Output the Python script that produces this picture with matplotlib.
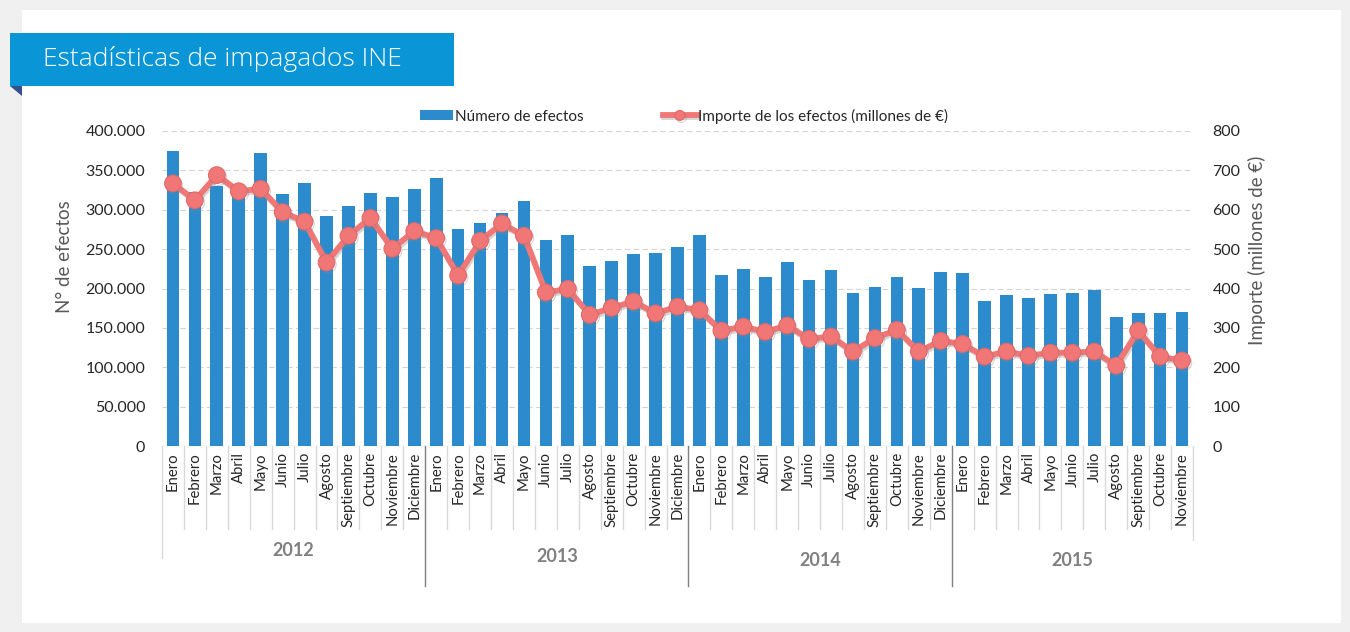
import matplotlib
matplotlib.use('Agg')
import matplotlib.pyplot as plt
from matplotlib.patches import Rectangle, Polygon
import matplotlib.patheffects as pe
from matplotlib.ticker import FuncFormatter, MultipleLocator

# ---------------- data ----------------
meses = ['Enero', 'Febrero', 'Marzo', 'Abril', 'Mayo', 'Junio', 'Julio',
         'Agosto', 'Septiembre', 'Octubre', 'Noviembre', 'Diciembre']
years = ['2012', '2013', '2014', '2015']
months_per_year = [12, 12, 12, 11]

efectos_2012 = [375000, 323000, 330600, 328000, 371700, 320000, 334400, 292100, 304400, 320900, 316200, 326400]
efectos_2013 = [340000, 275200, 283200, 295500, 311600, 261600, 268400, 228600, 235300, 243800, 245100, 252700]
efectos_2014 = [267500, 216800, 224800, 214200, 233300, 210800, 223900, 194300, 201500, 214600, 200200, 220600]
efectos_2015 = [220100, 184600, 191300, 188400, 193000, 193900, 198100, 164300, 168900, 169400, 170200]

importe_2012 = [667, 624, 688, 647, 653, 594, 570, 466, 534, 579, 501, 546]
importe_2013 = [528, 433, 521, 565, 534, 390, 399, 333, 351, 367, 337, 354]
importe_2014 = [345, 293, 303, 290, 306, 272, 278, 240, 274, 295, 240, 267]
importe_2015 = [259, 227, 240, 229, 237, 237, 240, 204, 293, 227, 217]

efectos = efectos_2012 + efectos_2013 + efectos_2014 + efectos_2015
importe = importe_2012 + importe_2013 + importe_2014 + importe_2015
labels = []
for n in months_per_year:
    labels += meses[:n]
x = list(range(len(labels)))

# ---------------- style ----------------
W, H = 1350, 632
BAR = '#2b8bcd'
LINE = '#f17676'
TXT = '#262626'
plt.rcParams['font.family'] = ['Lato', 'DejaVu Sans']


def fx(px):
    return px / W


def fy(py):
    return 1 - py / H


fig = plt.figure(figsize=(W / 100, H / 100), dpi=100, facecolor='#f0f0f0')

# white panel
fig.patches.append(Rectangle((fx(22), fy(623)), fx(1341) - fx(22), fy(10) - fy(623),
                             transform=fig.transFigure, facecolor='white', edgecolor='none', zorder=-10))
# title banner
fig.patches.append(Polygon([(fx(10), fy(86)), (fx(22), fy(86)), (fx(22), fy(96))],
                           closed=True, transform=fig.transFigure, facecolor='#34508f',
                           edgecolor='none', zorder=-9))
fig.patches.append(Rectangle((fx(10), fy(86)), fx(454) - fx(10), fy(33) - fy(86),
                             transform=fig.transFigure, facecolor='#0a96d6', edgecolor='none', zorder=-8))
fig.text(fx(43), fy(59), 'Estadísticas de impagados INE', color='white', fontsize=19,
         fontweight='light', va='center', ha='left', family=['Open Sans', 'DejaVu Sans'], zorder=3)

# axes
top_px, bot_px, left_px, right_px = 131, 446, 162, 1193
ax = fig.add_axes([fx(left_px), fy(bot_px), fx(right_px) - fx(left_px), fy(top_px) - fy(bot_px)])
ax.set_zorder(5)
ax.set_facecolor('none')
ax.set_xlim(-0.5, len(x) - 0.5)
ax.set_ylim(0, 400000)
ax.yaxis.set_major_locator(MultipleLocator(50000))
ax.yaxis.set_major_formatter(FuncFormatter(lambda v, p: f'{int(v):,}'.replace(',', '.')))
for s in ax.spines.values():
    s.set_visible(False)
ax.tick_params(axis='y', length=0, labelsize=11.5, labelcolor=TXT, pad=12)
ax.set_xticks([])
for v in range(50000, 400001, 50000):
    ax.axhline(v, color='#d4d4d4', lw=0.8, ls=(0, (5, 3)), zorder=0)
ax.axhline(0, color='#d9d9d9', lw=1.0, zorder=0)

bars = ax.bar(x, efectos, width=0.58, color=BAR, zorder=2, label='Número de efectos')

ax2 = ax.twinx()
ax2.set_zorder(6)
ax2.set_facecolor('none')
ax2.set_ylim(0, 800)
ax2.yaxis.set_major_locator(MultipleLocator(100))
for s in ax2.spines.values():
    s.set_visible(False)
ax2.tick_params(axis='y', length=0, labelsize=11.5, labelcolor=TXT, pad=14)
line, = ax2.plot(x, importe, color=LINE, lw=4.2, marker='o', ms=12,
                 markerfacecolor=LINE, markeredgecolor='#e06a6a', markeredgewidth=0.8,
                 zorder=3, label='Importe de los efectos (millones de €)',
                 path_effects=[pe.SimpleLineShadow(offset=(1, -1.5), shadow_color='#888888', alpha=0.35),
                               pe.Normal()])

fig.text(fx(65), fy(257), 'N° de efectos', rotation=90, fontsize=13.5, color='#595959',
         ha='center', va='center')
fig.text(fx(1257), fy(250), 'Importe (millones de €)', rotation=90, fontsize=13.5, color='#595959',
         ha='center', va='center')

# legend
leg = fig.legend(handles=[bars, line], loc='center', bbox_to_anchor=(fx(684), fy(116)),
                 ncol=2, frameon=False, fontsize=11, handlelength=2.2, handleheight=0.6,
                 handletextpad=0.1, columnspacing=5.2, labelcolor='#262626', markerscale=0.6)

# multi-level category axis
trans = ax.get_xaxis_transform()


def ay(py):
    return (bot_px - py) / (bot_px - top_px)


for i, lab in enumerate(labels):
    ax.text(i, ay(452), lab, rotation=90, ha='center', va='top', fontsize=10.7,
            color='#262626', transform=trans, clip_on=False)

boundaries = []
acc = 0
for n in months_per_year[:-1]:
    acc += n
    boundaries.append(acc - 0.5)

for i in range(1, len(x)):
    b = i - 0.5
    if b in boundaries:
        ax.plot([b, b], [ay(446), ay(586)], color='#7f7f7f', lw=1.0, transform=trans, clip_on=False)
    else:
        ax.plot([b, b], [ay(446), ay(529)], color='#d9d9d9', lw=1.0, transform=trans, clip_on=False)
ax.plot([-0.5, -0.5], [ay(446), ay(558)], color='#d9d9d9', lw=1.0, transform=trans, clip_on=False)
ax.plot([len(x) - 0.5, len(x) - 0.5], [ay(446), ay(540)], color='#d9d9d9', lw=1.0,
        transform=trans, clip_on=False)

year_y = [551, 557, 561, 561]
start = 0
for yr, n, yy in zip(years, months_per_year, year_y):
    ax.text(start + (n - 1) / 2, ay(yy), yr, ha='center', va='center', fontsize=13,
            fontweight='bold', color='#808080', transform=trans, clip_on=False)
    start += n

fig.savefig('out.png', dpi=100, facecolor=fig.get_facecolor())
